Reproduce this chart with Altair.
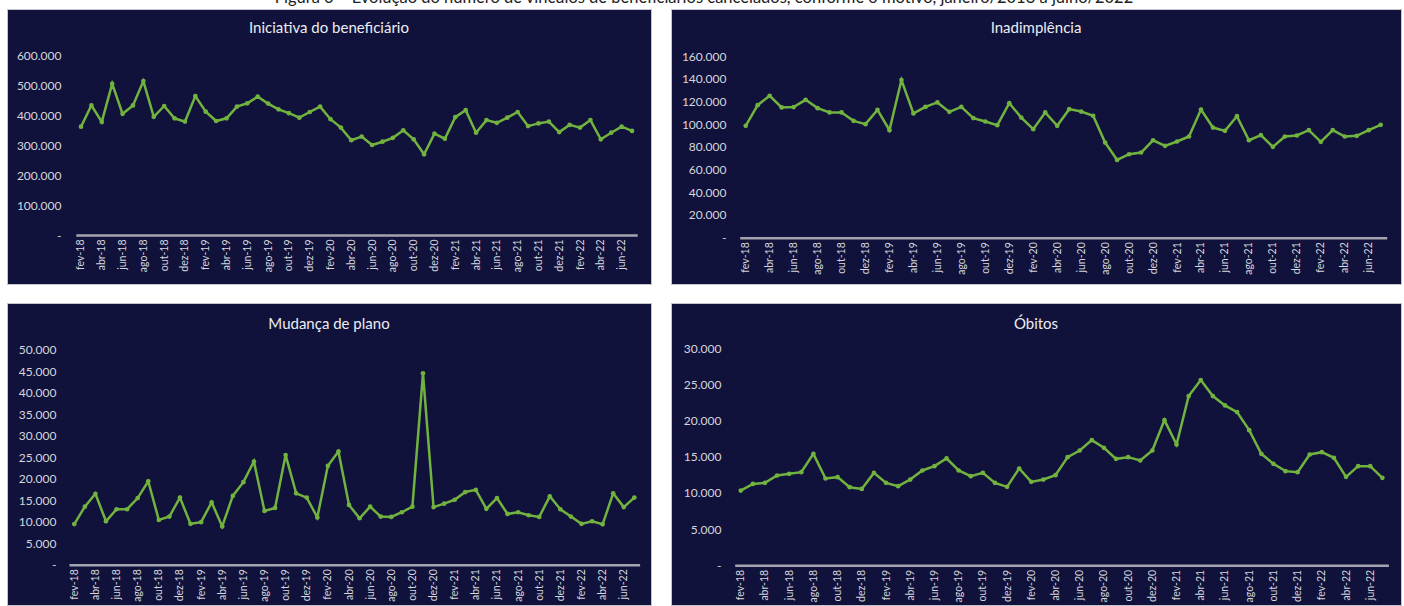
import altair as alt
import pandas as pd

mnames = ["jan", "fev", "mar", "abr", "mai", "jun", "jul", "ago", "set", "out", "nov", "dez"]
months = [f"{m}-{y}" for y in range(18, 23) for m in mnames][1:55]  # fev-18 .. jul-22
tick_months = months[::2]

iniciativa = [361, 432, 377, 504, 404, 432, 513, 394, 430, 389,
              378, 463, 411, 380, 389, 428, 439, 461, 438, 419,
              406, 391, 410, 428, 386, 358, 316, 328, 300, 311,
              324, 349, 319, 269, 338, 321, 393, 416, 341, 383,
              374, 391, 410, 363, 372, 378, 343, 367, 358, 383,
              319, 341, 361, 347]
inadimplencia = [98.5, 116.7, 125.0, 114.7, 115.0, 121.4, 114.1, 110.3, 110.3, 102.9,
                 100.0, 112.6, 94.7, 138.8, 109.4, 115.2, 119.1, 110.8, 115.2, 105.3,
                 102.3, 99.1, 118.5, 105.8, 95.6, 110.3, 98.5, 113.2, 111.1, 107.3,
                 83.8, 68.5, 73.5, 75.0, 85.8, 80.9, 84.7, 89.1, 112.9, 97.0,
                 94.1, 107.0, 85.8, 90.3, 80.0, 89.1, 90.0, 94.7, 84.4, 94.7,
                 89.1, 89.7, 94.7, 99.4]
mudanca = [9.44, 13.5, 16.5, 10.1, 12.9, 12.9, 15.5, 19.4, 10.4, 11.2,
           15.6, 9.5, 9.9, 14.5, 8.9, 16.0, 19.2, 24.0, 12.5, 13.2,
           25.5, 16.6, 15.6, 11.0, 23.0, 26.3, 13.9, 10.8, 13.5, 11.2,
           11.1, 12.2, 13.5, 44.5, 13.4, 14.2, 15.1, 16.9, 17.4, 13.0,
           15.5, 11.8, 12.2, 11.5, 11.1, 15.9, 12.9, 11.2, 9.5, 10.1,
           9.4, 16.6, 13.4, 15.6]
obitos = [10.32, 11.24, 11.38, 12.40, 12.63, 12.86, 15.39, 11.98, 12.17, 10.78,
          10.55, 12.76, 11.38, 10.92, 11.84, 13.09, 13.69, 14.75, 13.09, 12.30,
          12.76, 11.38, 10.83, 13.36, 11.52, 11.84, 12.44, 14.93, 15.85, 17.28,
          16.22, 14.70, 14.93, 14.47, 15.85, 20.04, 16.68, 23.36, 25.57, 23.36,
          22.07, 21.15, 18.66, 15.39, 14.01, 13.00, 12.86, 15.30, 15.62, 14.84,
          12.21, 13.69, 13.69, 12.07]

y_ticks_1 = [0, 100000, 200000, 300000, 400000, 500000, 600000]
y_ticks_2 = [0, 20000, 40000, 60000, 80000, 100000, 120000, 140000, 160000]
y_ticks_3 = [0, 5000, 10000, 15000, 20000, 25000, 30000, 35000, 40000, 45000, 50000]
y_ticks_4 = [0, 5000, 10000, 15000, 20000, 25000, 30000]

NAVY = "#10123b"
GREEN = "#72b33f"
LABEL = "#d6d6de"
FONT = "Lato"


def panel(title, values, unit, W, H, x_range, y_range, y_ticks, y_lab_right, title_off):
    df = pd.DataFrame({"mes": months, "valor": [v * unit for v in values]})
    zero_px = y_range[0]
    return alt.Chart(
        df,
        title=alt.TitleParams(title, offset=title_off, fontSize=15, color="#ececf2",
                              font=FONT, fontWeight="normal", anchor="middle", frame="group"),
    ).mark_line(
        color=GREEN, strokeWidth=2.5,
        point=alt.OverlayMarkDef(filled=True, size=22, color=GREEN),
    ).encode(
        x=alt.X("mes:O", sort=months,
                scale=alt.Scale(type="point", range=x_range, padding=0.5),
                axis=alt.Axis(values=tick_months, title=None, labelAngle=270,
                              labelColor=LABEL, labelFont=FONT, labelFontSize=10.5,
                              labelPadding=4, ticks=False, domain=True,
                              domainColor="#a4a4b0", domainWidth=2.5,
                              offset=-(H - zero_px), grid=False)),
        y=alt.Y("valor:Q",
                scale=alt.Scale(domain=[0, y_ticks[-1]], range=y_range, nice=False, zero=True),
                axis=alt.Axis(values=y_ticks, title=None, grid=False, ticks=False, domain=False,
                              labelColor=LABEL, labelFont=FONT, labelFontSize=12,
                              labelPadding=0, offset=-y_lab_right,
                              labelExpr="datum.value == 0 ? '-' : replace(format(datum.value, ','), ',', '.')")),
    ).properties(width=W, height=H)


p1 = panel("Iniciativa do beneficiário", iniciativa, 1000, 644, 275,
           [68.8, 630.2], [226, 46], y_ticks_1, 54, -27)
p2 = panel("Inadimplência", inadimplencia, 1000, 730, 275,
           [68.7, 715.7], [228.7, 47], y_ticks_2, 55, -27)
p3 = panel("Mudança de plano", mudanca, 1000, 644, 302,
           [62.0, 632.6], [261.7, 46.7], y_ticks_3, 49, -29)
p4 = panel("Óbitos", obitos, 1000, 730, 302,
           [63.7, 717.4], [262.3, 45], y_ticks_4, 50, -29)

chart = alt.vconcat(
    alt.hconcat(p1, p2, spacing=18),
    alt.hconcat(p3, p4, spacing=18),
    spacing=17,
).properties(
    title=alt.TitleParams(
        "Figura 6 – Evolução do número de vínculos de beneficiários cancelados, conforme o motivo, janeiro/2018 a julho/2022",
        fontSize=16.5, font=FONT, color="#222222", fontWeight="normal", anchor="middle", offset=2),
    padding={"left": 6, "top": -10, "right": 0, "bottom": 0},
    background="white",
).configure_view(fill=NAVY, stroke="#c4c4cc", strokeWidth=1)

chart.save("out.html", embed_options={"renderer": "svg", "actions": False})
